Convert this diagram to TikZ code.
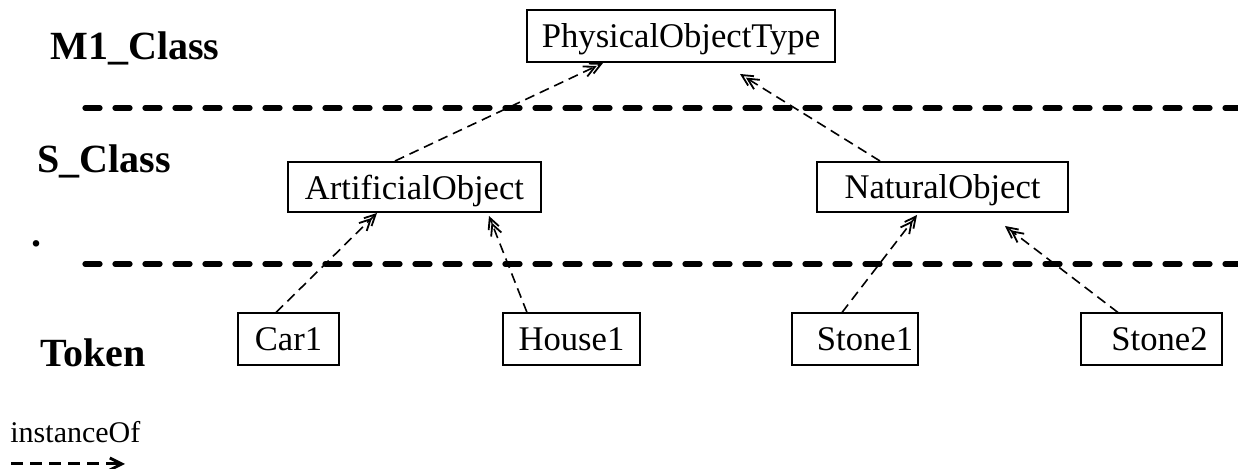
\documentclass[tikz,border=0pt]{standalone}
\usepackage{fontspec}
\setmainfont{Liberation Serif}
\usetikzlibrary{arrows.meta}
\begin{document}
\begin{tikzpicture}[x=0.5pt,y=-0.5pt,
  cls/.style={draw,line width=1pt,inner sep=0pt,text depth=0pt,font=\fontsize{17.3}{20}\selectfont,minimum height=26pt},
  level/.style={font=\fontsize{20}{24}\selectfont\bfseries,inner sep=0pt},
  sep/.style={line width=2.6pt,line cap=round,dash pattern=on 7.5pt off 7.5pt},
  inst/.style={line width=0.8pt,dash pattern=on 5pt off 3pt,
    -{Straight Barb[length=5.5pt,width=5.5pt,line width=0.9pt,sep=-3.5pt]Straight Barb[length=5.5pt,width=5.5pt,line width=0.9pt]}}]
\useasboundingbox (0,0) rectangle (1238,469);

% level labels
\node[level] (m1) at (135,48) {M1\_Class};
\node[level] (sc) at (104,161) {S\_Class};
\node[level] (dot) at (37,244) {.};
\node[level] (tok) at (93,353) {Token};

% level separators
\coordinate (s1a) at (85,108); \coordinate (s1b) at (1238,108);
\coordinate (s2a) at (85,264); \coordinate (s2b) at (1238,264);
\draw[sep] (s1a) -- (s1b);
\draw[sep] (s2a) -- (s2b);

% classes and tokens
\node[cls,minimum width=154pt] (POT) at (681,36) {PhysicalObjectType};
\node[cls,minimum width=126.5pt,minimum height=25pt] (AO) at (414.5,187) {ArtificialObject};
\node[cls,minimum width=125.5pt,minimum height=25pt] (NO) at (942.5,187) {NaturalObject};
\node[cls,minimum width=50.5pt] (car) at (288.5,339.5) {Car1};
\node[cls,minimum width=68.5pt] (house) at (571.5,339.5) {House1};
\node[cls,minimum width=63pt] (st1) at (855,339.5) {\hspace{10pt}Stone1};
\node[cls,minimum width=70.5pt] (st2) at (1151.5,339.5) {\hspace{8pt}Stone2};

% instanceOf links
\draw[inst] ([xshift=-9.75pt]AO.north) -- ([xshift=-39pt]POT.south);
\draw[inst] ([xshift=-31.25pt]NO.north) -- ([xshift=29.5pt,yshift=-5.5pt]POT.south);
\draw[inst] ([xshift=-6.25pt]car.north) -- ([xshift=-18.75pt]AO.south);
\draw[inst] ([xshift=-22.25pt]house.north) -- ([xshift=37.25pt,yshift=-1.5pt]AO.south);
\draw[inst] ([xshift=-6.5pt]st1.north) -- ([xshift=-12.75pt,yshift=-1pt]NO.south);
\draw[inst] ([xshift=-16.75pt]st2.north) -- ([xshift=31.25pt,yshift=-6.5pt]NO.south);

% legend
\node[font=\fontsize{15}{18}\selectfont,anchor=west,inner sep=0pt] (leg) at (10,432) {instanceOf};
\coordinate (la) at (11,464); \coordinate (lb) at (125,464);
\draw[line width=1.5pt,dash pattern=on 6pt off 3.5pt,-{Straight Barb[length=6pt,width=6pt,line width=1.4pt]}] (la) -- (lb);
\end{tikzpicture}
\end{document}
